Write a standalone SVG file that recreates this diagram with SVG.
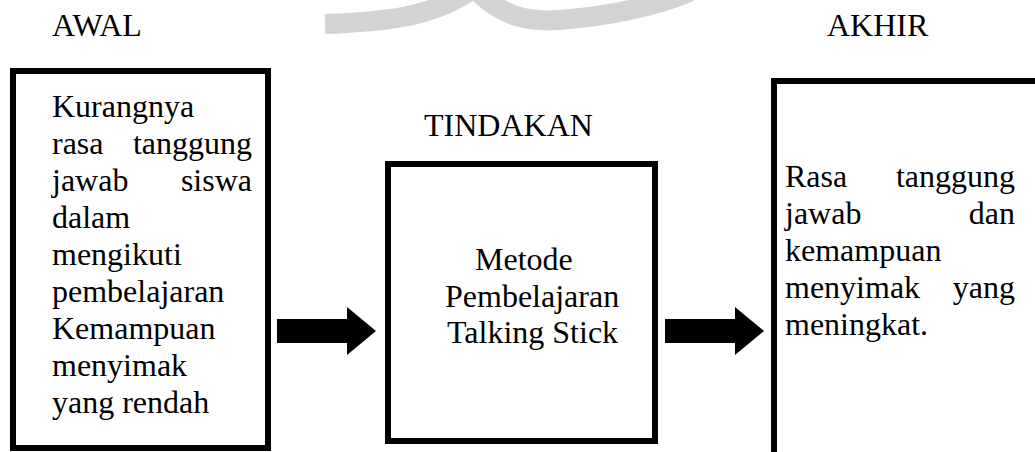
<svg xmlns="http://www.w3.org/2000/svg" width="1035" height="452" viewBox="0 0 1035 452">
<style>
.t{font-family:"Liberation Serif","Times New Roman",serif;font-size:32px;fill:#000}
.e{text-anchor:end}
.box{fill:none;stroke:#000;stroke-width:6}
.wm{fill:none;stroke:#d3d3d3;stroke-width:20;stroke-linecap:butt}
</style>
<rect width="1035" height="452" fill="#fff"/>
<g id="watermark">
<path class="wm" d="M325,24 C380,22 430,18 468,-8"/>
<path class="wm" d="M478,-8 C505,18 530,22 560,20 C610,16 650,8 690,-8"/>
</g>
<g id="labels">
<text class="t" x="52" y="36">AWAL</text>
<text class="t" x="827" y="36">AKHIR</text>
<text class="t" x="424" y="136">TINDAKAN</text>
</g>
<g id="awal">
<rect class="box" x="13" y="71" width="255" height="377"/>
<text class="t" x="52" y="117">Kurangnya</text>
<text class="t" x="52" y="154">rasa</text><text class="t e" x="252" y="154">tanggung</text>
<text class="t" x="52" y="191">jawab</text><text class="t e" x="252" y="191">siswa</text>
<text class="t" x="52" y="228">dalam</text>
<text class="t" x="52" y="265">mengikuti</text>
<text class="t" x="52" y="302">pembelajaran</text>
<text class="t" x="52" y="339">Kemampuan</text>
<text class="t" x="52" y="376">menyimak</text>
<text class="t" x="52" y="413">yang rendah</text>
</g>
<g id="tindakan">
<rect class="box" x="388" y="164" width="267" height="277"/>
<text class="t" x="475" y="270">Metode</text>
<text class="t" x="445" y="307">Pembelajaran</text>
<text class="t" x="447" y="343">Talking Stick</text>
</g>
<g id="akhir">
<rect class="box" x="774" y="81" width="300" height="400"/>
<text class="t" x="785" y="187">Rasa</text><text class="t e" x="1015" y="187">tanggung</text>
<text class="t" x="785" y="224">jawab</text><text class="t e" x="1015" y="224">dan</text>
<text class="t" x="785" y="261">kemampuan</text>
<text class="t" x="785" y="298">menyimak</text><text class="t e" x="1015" y="298">yang</text>
<text class="t" x="785" y="335">meningkat.</text>
</g>
<g id="connectors">
<polygon points="277,319 347,319 347,307 376,331 347,355 347,343 277,343" fill="#000"/>
<polygon points="665,319 735,319 735,307 764,331 735,355 735,343 665,343" fill="#000"/>
</g>
</svg>
